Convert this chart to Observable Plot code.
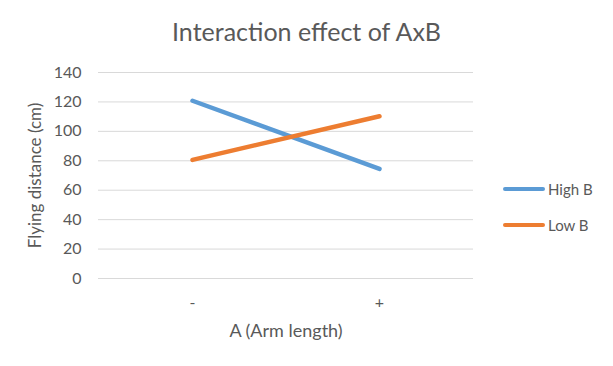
<!DOCTYPE html>
<html>
<head>
<meta charset="utf-8">
<script src="https://cdn.jsdelivr.net/npm/d3@7"></script>
<script src="https://cdn.jsdelivr.net/npm/@observablehq/plot@0.6"></script>
<style>
  html, body { margin: 0; padding: 0; background: #fff; }
  #wrap { position: relative; width: 613px; height: 366px; font-family: Lato, "Open Sans", sans-serif; color: #595959; }
  #title { height: 55px; line-height: 62px; text-align: center; font-size: 25px; color: #595959; }
  #legend { position: absolute; left: 503px; top: 171px; font-size: 15px; }
  .item { display: flex; align-items: center; height: 36px; }
  .swatch { width: 42px; height: 4.5px; border-radius: 3px; margin-right: 3px; }
</style>
</head>
<body>
<div id="wrap">
  <div id="title">Interaction effect of AxB</div>
  <div id="chart"></div>
  <div id="legend"></div>
</div>
<script>
const categories = ["-", "+"];
const seriesNames = ["High B", "Low B"];
const highB = [120.8, 74.5];
const lowB = [80.6, 110.3];
const colors = ["#5B9BD5", "#ED7D31"];
const yTicks = [0, 20, 40, 60, 80, 100, 120, 140];

const data = [];
[highB, lowB].forEach((vals, si) => {
  categories.forEach((c, i) => data.push({series: seriesNames[si], a: c, v: vals[i]}));
});

const plot = Plot.plot({
  width: 613,
  height: 311,
  marginTop: 17,
  marginBottom: 88,
  marginLeft: 98,
  marginRight: 140,
  style: {fontFamily: "Lato, 'Open Sans', sans-serif", fontSize: "15px", color: "#595959", background: "#fff"},
  x: {type: "point", domain: categories, padding: 0.5, label: null},
  y: {domain: [0, 140], ticks: yTicks, label: null},
  color: {domain: seriesNames, range: colors},
  marks: [
    Plot.gridY(yTicks, {stroke: "#d9d9d9", strokeOpacity: 1, strokeWidth: 1}),
    Plot.axisY(yTicks, {tickSize: 0, tickPadding: 17, fontSize: 16, label: null}),
    Plot.axisX({tickSize: 0, tickPadding: 18, fontSize: 16, label: null}),
    Plot.text(["A (Arm length)"], {frameAnchor: "bottom", dy: 58, fontSize: 18, fill: "#595959"}),
    Plot.text(["Flying distance (cm)"], {frameAnchor: "left", textAnchor: "middle", dx: -63, rotate: -90, fontSize: 17, fill: "#595959"}),
    Plot.line(data, {x: "a", y: "v", z: "series", stroke: "series", strokeWidth: 4.5, strokeLinecap: "round"})
  ]
});
document.getElementById("chart").appendChild(plot);

const legend = document.getElementById("legend");
seriesNames.forEach((name, i) => {
  const item = document.createElement("div");
  item.className = "item";
  const sw = document.createElement("div");
  sw.className = "swatch";
  sw.style.background = colors[i];
  const t = document.createElement("span");
  t.textContent = name;
  item.appendChild(sw);
  item.appendChild(t);
  legend.appendChild(item);
});
</script>
</body>
</html>
